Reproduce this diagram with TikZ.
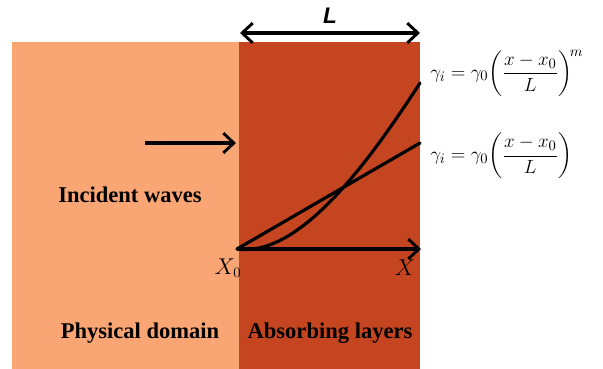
\documentclass[tikz,border=0pt]{standalone}
\usepackage{amsmath}
\usepackage{fontspec}
\setmainfont{Liberation Serif}
\newfontfamily\calfont{Liberation Sans}
\usetikzlibrary{arrows.meta, positioning}

\definecolor{physcol}{RGB}{250,166,116}
\definecolor{abscol}{RGB}{196,69,32}

\tikzset{
    domlabel/.style={font=\fontsize{17}{20}\selectfont\bfseries},
    eqlabel/.style={font=\fontsize{15}{18}\selectfont, anchor=west, inner sep=0pt},
    axlabel/.style={font=\fontsize{16}{19}\selectfont},
    tip/.tip={Straight Barb[length=8pt, width=15pt, line width=2.2pt]},
    barb/.style={-tip, line width=2.4pt}
}

\begin{document}
\begin{tikzpicture}[x=0.0265cm, y=-0.0265cm]
        \useasboundingbox (0,0) rectangle (603,369);
        % the two domains
        \fill[physcol] (12,42) rectangle (239,369);
        \fill[abscol]  (239,42) rectangle (420,369);

        \coordinate (o)   at (237,249);
        \coordinate (xe)  at (421,249);
        \coordinate (lin) at (420,143);
        \coordinate (pow) at (420,83);
        \coordinate (la)  at (240,33);
        \coordinate (lb)  at (420,33);
        \coordinate (ia)  at (145,143);
        \coordinate (ib)  at (236,143);

        \node[font=\fontsize{17}{20}\calfont\bfseries\itshape] (len) at (330,16) {L};
        \draw[barb, tip-tip] (la) -- (lb);

        \draw[barb] (ia) -- (ib);
        \node[domlabel] (inc) at (130,195) {Incident waves};

        % damping profiles
        \draw[line width=2.4pt, line cap=round] (o) -- (lin);
        \draw[line width=2.4pt, line cap=round] (o) .. controls (300,258) and (370,160) .. (pow);
        \draw[barb] (o) -- (xe);

        \node[axlabel] (x0) at (228,268) {$X_0$};
        \node[axlabel] (xx) at (405,268) {$X$};

        \node[eqlabel] (eqm) at (430,73)
            {$\gamma_i=\gamma_0\!\left(\dfrac{x-x_0}{L}\right)^{\!m}$};
        \node[eqlabel] (eql) at (430,156)
            {$\gamma_i=\gamma_0\!\left(\dfrac{x-x_0}{L}\right)$};

        \node[domlabel] (phys) at (140,333) {Physical domain};
        \node[domlabel] (abs)  at (330,333) {Absorbing layers};
    \end{tikzpicture}
\end{document}
